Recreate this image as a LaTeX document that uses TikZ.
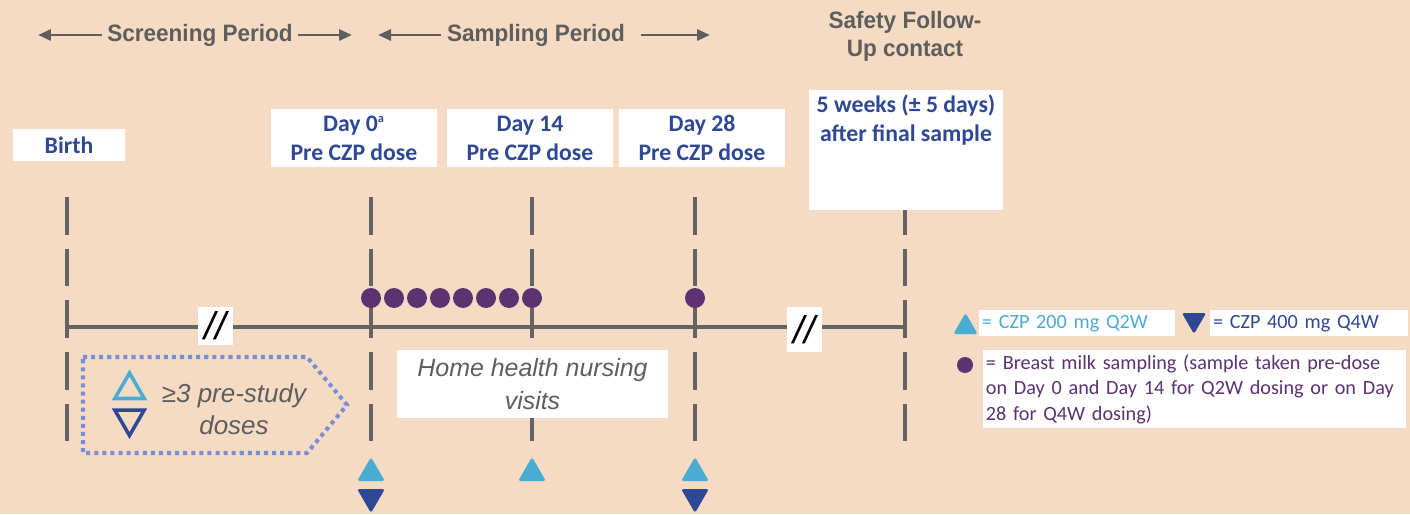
\documentclass[tikz,border=0pt]{standalone}
\usepackage{fontspec}
\setmainfont{Carlito}
\newfontfamily\headfont[FakeStretch=0.95]{Liberation Sans}
\newfontfamily\notefont{Liberation Sans}
\usetikzlibrary{positioning,arrows.meta,shapes.geometric}
\definecolor{paper}{RGB}{245,219,195}
\definecolor{czpdark}{RGB}{46,72,150}
\definecolor{czplight}{RGB}{75,172,210}
\definecolor{milk}{RGB}{92,50,112}
\definecolor{linegray}{RGB}{100,100,100}
\definecolor{headgray}{RGB}{94,94,94}
\definecolor{dotblue}{RGB}{122,142,216}
\tikzset{
  period/.style={font=\headfont\bfseries\fontsize{13.5}{15.9}\selectfont, text=headgray, align=center, inner xsep=3pt, inner ysep=1pt},
  periodarrow/.style={-{Triangle[length=2.6mm,width=2.2mm]}, line width=1.7pt, draw=headgray},
  datebox/.style={fill=white, text=czpdark, font=\bfseries\fontsize{13.5}{16.4}\selectfont, align=center, inner sep=0pt},
  dayline/.style={line width=2.3pt, draw=linegray, dash pattern=on 21.5pt off 7.9pt},
  timeline/.style={line width=2.3pt, draw=linegray},
  breakbox/.style={fill=white, minimum width=0.7cm, font=\notefont\itshape\fontsize{22}{22}\selectfont, inner sep=0pt},
  sample/.style={circle, fill=milk, minimum size=0.4cm, inner sep=0pt},
  uptri/.style={regular polygon, regular polygon sides=3, inner sep=0pt, outer sep=0pt, minimum size=0.64cm, rounded corners=1pt},
  downtri/.style={uptri, shape border rotate=180},
  note/.style={font=\notefont\itshape\fontsize{14.2}{18.7}\selectfont, text=headgray, align=center, inner sep=0pt},
  prestudy/.style={draw=dotblue, line width=2.3pt, dash pattern=on 2.3pt off 2.3pt},
  legendbox/.style={fill=white, font=\fontsize{11.5}{14.5}\selectfont, align=left, anchor=north west, inner xsep=1.5pt, inner ysep=0pt}
}
\begin{document}
\begin{tikzpicture}[x=0.02cm, y=-0.02cm]
  \fill[paper] (0,0) rectangle (1410,514);
  \useasboundingbox (0,0) rectangle (1410,514);

  % periods
  \node[period] (screen) at (200,35) {Screening Period};
  \coordinate (screenL) at (38,35);
  \coordinate (screenR) at (352,35);
  \draw[periodarrow] (screen.west) -- (screenL);
  \draw[periodarrow] (screen.east) -- (screenR);
  \node[period] (sampling) at (536,35) {Sampling Period};
  \coordinate (samplingL) at (378,35);
  \coordinate (samplingR) at (710,35);
  \draw[periodarrow] (sampling.west) -- (samplingL);
  \draw[periodarrow, shorten <=6pt] (sampling.east) -- (samplingR);
  \node[period] (followup) at (905,36) {Safety Follow-\\Up contact};

  % day lines and time line
  \foreach \x/\n in {67/birth, 371/day0, 532/day14, 695/day28, 905/fu} {
    \coordinate (\n-top) at (\x,197);
    \coordinate (\n-bot) at (\x,443);
    \coordinate (\n-axis) at (\x,327);
    \draw[dayline] (\n-top) -- (\n-bot);
  }
  \draw[timeline] (birth-axis) -- (fu-axis);
  \node[breakbox, minimum height=0.76cm] (break1) at (215.5,326) {//};
  \node[breakbox, minimum height=0.9cm] (break2) at (804.5,329.5) {//};

  % time points
  \node[datebox, minimum width=2.24cm, minimum height=0.64cm] (birth) at (69,145) {Birth};
  \node[datebox, minimum width=3.32cm, minimum height=1.16cm] (day0) at (354,138) {Day 0\textsuperscript{\scriptsize a}\\Pre CZP dose};
  \node[datebox, minimum width=3.32cm, minimum height=1.16cm] (day14) at (530,138) {Day 14\\Pre CZP dose};
  \node[datebox, minimum width=3.32cm, minimum height=1.16cm] (day28) at (702,138) {Day 28\\Pre CZP dose};
  \node[datebox, minimum width=3.88cm, minimum height=2.4cm] (fubox) at (906,150) {};
  \node[datebox, fill=none, anchor=north, inner ysep=3pt] (futext) at (fubox.north) {5 weeks (± 5 days)\\after final sample};

  % samples
  \foreach \i in {0,...,7}
    \node[sample] (s\i) at (371+23*\i,298) {};
  \node[sample] (s28) at (695,298) {};

  % doses
  \node[uptri, fill=czplight] (up0) at (371,473) {};
  \node[downtri, fill=czpdark] (down0) at (371,497) {};
  \node[uptri, fill=czplight] (up14) at (532,473) {};
  \node[uptri, fill=czplight] (up28) at (695,473) {};
  \node[downtri, fill=czpdark] (down28) at (695,497) {};

  % pre-study doses
  \draw[prestudy] (83,357) -- (307,357) -- (347,405) -- (307,453) -- (83,453) -- cycle;
  \node[uptri, draw=czplight, line width=2pt, minimum size=0.68cm, rounded corners=0pt] (preup) at (129.5,390) {};
  \node[downtri, draw=czpdark, line width=2pt, minimum size=0.68cm, rounded corners=0pt] (predown) at (129.5,418.5) {};
  \node[note, font=\notefont\itshape\fontsize{14.8}{18}\selectfont] (pretext) at (234,409) {≥3 pre-study\\doses};

  \node[note, fill=white, minimum width=5.42cm, minimum height=1.36cm] (home) at (532.5,384) {Home health nursing\\visits};

  % legend
  \node[uptri, fill=czplight, minimum size=0.56cm] (legup) at (965.5,327) {};
  \node[legendbox, text=czplight, text width=3.8cm, minimum height=0.52cm] (leg200) at (979,310) {= CZP 200 mg Q2W};
  \node[downtri, fill=czpdark, minimum size=0.56cm] (legdown) at (1194,320) {};
  \node[legendbox, text=czpdark, text width=3.85cm, minimum height=0.52cm] (leg400) at (1210,310) {= CZP 400 mg Q4W};
  \node[circle, fill=milk, minimum size=0.32cm, inner sep=0pt] (legdot) at (965,365) {};
  \node[legendbox, text=milk, text width=8.35cm, minimum height=1.56cm] (legmilk) at (983,350)
    {= Breast milk sampling (sample taken pre-dose\\on Day 0 and Day 14 for Q2W dosing or on Day\\28 for Q4W dosing)};
\end{tikzpicture}
\end{document}
